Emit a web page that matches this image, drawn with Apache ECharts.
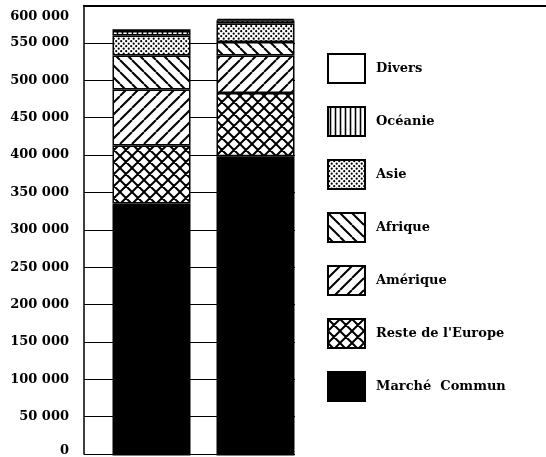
<!DOCTYPE html>
<html>
<head>
<meta charset="utf-8">
<script src="https://cdn.jsdelivr.net/npm/echarts@6/dist/echarts.min.js"></script>
<style>
  html, body { margin: 0; padding: 0; background: #fff; }
  #chart { width: 546px; height: 457px; }
</style>
</head>
<body>
<div id="chart"></div>
<script>
// two bars, stacked by region
var categories = ['1', '2'];
var regions = ['Marché  Commun', 'Reste de l\'Europe', 'Amérique', 'Afrique', 'Asie', 'Océanie', 'Divers'];
var marcheCommun = [336000, 399000];
var resteEurope = [77500, 84500];
var amerique = [74500, 50000];
var afrique = [45500, 18000];
var asie = [26500, 24500];
var oceanie = [6000, 4500];
var divers = [2500, 2000];
var yTicks = [0, 600000, 50000]; // min, max, interval

function pattern(kind){
    var s = kind == 'dots' ? 5 : (kind == 'vert' ? 5 : 12);
    var c = document.createElement('canvas');
    c.width = s; c.height = s;
    var g = c.getContext('2d');
    g.fillStyle = '#fff';
    g.fillRect(0, 0, s, s);
    g.strokeStyle = '#000';
    g.fillStyle = '#000';
    g.lineWidth = 2;
    g.beginPath();
    for (var k = -1; k <= 1; k++) {
        if (kind == 'fwd' || kind == 'cross') { g.moveTo(k * s, s); g.lineTo(k * s + s, 0); }
        if (kind == 'back' || kind == 'cross') { g.moveTo(k * s, 0); g.lineTo(k * s + s, s); }
    }
    if (kind == 'vert') { g.lineWidth = 1.6; g.moveTo(2.5, 0); g.lineTo(2.5, s); }
    g.stroke();
    if (kind == 'dots') {
        g.beginPath(); g.arc(1.2, 1.2, 1.1, 0, Math.PI * 2); g.fill();
        g.beginPath(); g.arc(3.7, 3.7, 1.1, 0, Math.PI * 2); g.fill();
    }
    return {image: c, repeat: 'repeat'};
}

var fills = ['#000', pattern('cross'), pattern('fwd'), pattern('back'), pattern('dots'), pattern('vert'), '#fff'];
var values = [marcheCommun, resteEurope, amerique, afrique, asie, oceanie, divers];

var series = regions.map(function(name, i){
    return {
        name: name,
        type: 'bar',
        stack: 'total',
        xAxisIndex: 0,
        yAxisIndex: 0,
        barWidth: 78,
        data: values[i],
        itemStyle: {
            color: fills[i],
            borderColor: '#000',
            borderWidth: 1.5
        },
        z: 5
    };
});

function fmt(v){
    var t = String(v).replace(/\B(?=(\d{3})+(?!\d))/g, ' ');
    if (v == yTicks[1]) return '{top|' + t + '}';
    if (v == yTicks[0]) return '{bot|' + t + '}';
    return t;
}

var labelFont = {fontFamily: 'DejaVu Serif', fontWeight: 'bold', fontSize: 13, color: '#000'};
var hidden = {axisLine: {show: false}, axisTick: {show: false}, axisLabel: {show: false}, splitLine: {show: false}};

echarts.init(document.getElementById('chart')).setOption({
    animation: false,
    backgroundColor: '#fff',
    grid: [
        {left: 99.5, width: 208, top: 5.5, bottom: 1.5},
        {left: 84, width: 211, top: 5.5, bottom: 1.5},
        {left: 84, right: 0, top: 6, bottom: 1.5}
    ],
    legend: {
        orient: 'vertical',
        left: 322,
        top: 48,
        icon: 'rect',
        itemWidth: 37,
        itemHeight: 29,
        itemGap: 22,
        data: regions.slice().reverse(),
        textStyle: {
            fontFamily: 'DejaVu Serif',
            fontWeight: 'bold',
            fontSize: 13,
            color: '#000',
            padding: [0, 0, 0, 6]
        }
    },
    xAxis: [
        Object.assign({type: 'category', gridIndex: 0, data: categories}, hidden),
        Object.assign({type: 'category', gridIndex: 1, data: categories}, hidden),
        {type: 'category', gridIndex: 2, data: categories, position: 'top',
            axisLine: {onZero: false, lineStyle: {color: '#000', width: 2}},
            axisTick: {show: false}, axisLabel: {show: false}, splitLine: {show: false}}
    ],
    yAxis: [
        Object.assign({type: 'value', gridIndex: 0, min: yTicks[0], max: yTicks[1], interval: yTicks[2]}, hidden),
        {
            type: 'value', gridIndex: 1, min: yTicks[0], max: yTicks[1], interval: yTicks[2],
            axisLine: {show: true, lineStyle: {color: '#000', width: 1.5}},
            axisTick: {show: false},
            splitLine: {show: true, lineStyle: {color: '#000', width: 1}},
            axisLabel: Object.assign({
                margin: 15,
                formatter: fmt,
                rich: {
                    top: Object.assign({padding: [23, 0, 0, 0]}, labelFont),
                    bot: Object.assign({padding: [0, 0, 7, 0]}, labelFont)
                }
            }, labelFont)
        },
        Object.assign({type: 'value', gridIndex: 2, min: yTicks[0], max: yTicks[1]}, hidden)
    ],
    series: series
});
</script>
</body>
</html>
